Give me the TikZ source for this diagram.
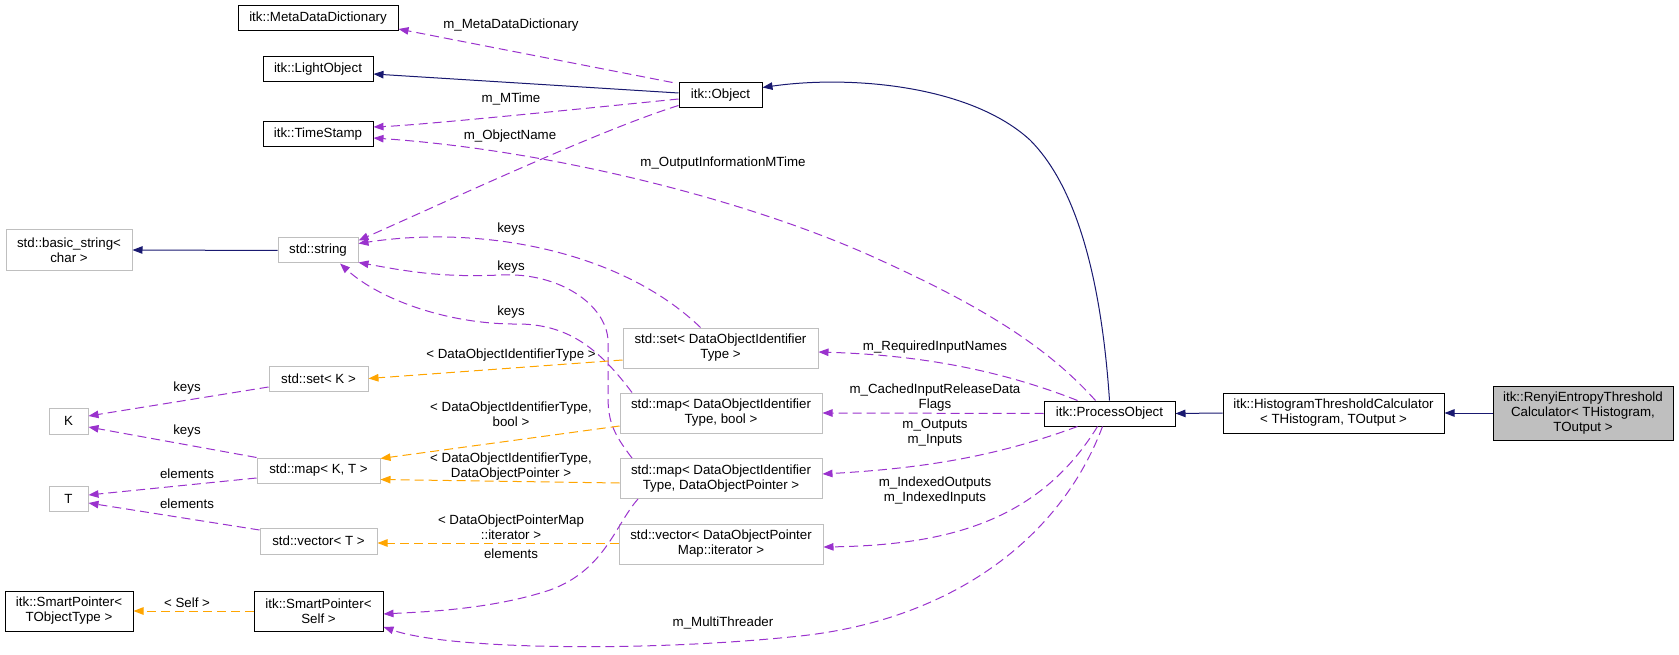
\documentclass[tikz,border=0pt]{standalone}
\usepackage{fontspec}
\setmainfont{Liberation Sans}
\usetikzlibrary{arrows.meta}
\definecolor{inhblue}{HTML}{191970}
\definecolor{usepurple}{HTML}{9A32CD}
\definecolor{tplorange}{HTML}{FFA500}
\definecolor{boxgrey}{HTML}{BFBFBF}
\tikzset{
  cls/.style={draw=black, line width=1pt, align=center, inner sep=0pt, font=\fontsize{13.3}{15}\selectfont},
  ext/.style={cls, draw=boxgrey},
  lbl/.style={align=center, inner sep=0pt, font=\fontsize{13.3}{15}\selectfont},
  tip/.style={-{Triangle[length=10pt,width=7.5pt]}},
  inh/.style={tip, draw=inhblue, line width=1pt},
  usage/.style={tip, draw=usepurple, line width=1pt, dash pattern=on 9pt off 5pt},
  tmpl/.style={tip, draw=tplorange, line width=1pt, dash pattern=on 9pt off 5pt}
}
\begin{document}
\begin{tikzpicture}[x=1pt,y=-1pt]
\useasboundingbox (0,0) rectangle (1679,655);

% classes
\node[cls, minimum width=160, minimum height=25] (mdd) at (318,18.5) {itk::MetaDataDictionary};
\node[cls, minimum width=110, minimum height=25] (lobj) at (318,69.5) {itk::LightObject};
\node[cls, minimum width=110, minimum height=25] (tstamp) at (318,134.5) {itk::TimeStamp};
\node[cls, minimum width=83, minimum height=25] (obj) at (720.5,95.5) {itk::Object};
\node[ext, minimum width=126, minimum height=40] (bstr) at (69,250) {std::basic\_string<\\char >};
\node[ext, minimum width=80, minimum height=25] (str) at (318,250.5) {std::string};
\node[ext, minimum width=39, minimum height=26] (kk) at (68.5,421) {K};
\node[ext, minimum width=39, minimum height=25] (tt) at (68.5,498.5) {T};
\node[ext, minimum width=99, minimum height=25] (setk) at (318.5,378.5) {std::set< K >};
\node[ext, minimum width=123, minimum height=25] (mapkt) at (318.5,470.5) {std::map< K, T >};
\node[ext, minimum width=117, minimum height=26] (vect) at (318.5,541) {std::vector< T >};
\node[cls, minimum width=128, minimum height=40] (sptot) at (69,611) {itk::SmartPointer<\\TObjectType >};
\node[cls, minimum width=129, minimum height=40] (spself) at (318.5,611) {itk::SmartPointer<\\Self >};
\node[ext, minimum width=195, minimum height=40] (setdoi) at (720.5,348) {std::set< DataObjectIdentifier\\Type >};
\node[ext, minimum width=202, minimum height=40] (mapbool) at (721,413) {std::map< DataObjectIdentifier\\Type, bool >};
\node[ext, minimum width=202, minimum height=40] (mapdop) at (721,478.5) {std::map< DataObjectIdentifier\\Type, DataObjectPointer >};
\node[ext, minimum width=204, minimum height=40] (vecit) at (721,544) {std::vector< DataObjectPointer\\Map::iterator >};
\node[cls, minimum width=131, minimum height=25] (proc) at (1109.5,413.5) {itk::ProcessObject};
\node[cls, minimum width=221, minimum height=40] (htc) at (1333.5,413) {itk::HistogramThresholdCalculator\\< THistogram, TOutput >};
\node[cls, fill=boxgrey, minimum width=180, minimum height=54] (renyi) at (1583,413) {itk::RenyiEntropyThreshold\\Calculator< THistogram,\\TOutput >};

% inheritance
\draw[inh] ([yshift=2.5pt]obj.west) -- ([yshift=-4.5pt]lobj.east);
\draw[inh] (proc.north) .. controls (1100,260) and (1070,180) .. (1030,140) .. controls (970,85) and (850,75) .. ([yshift=8pt]obj.east);
\draw[inh] (str.west) -- (bstr.east);
\draw[inh] (htc.west) -- (proc.east);
\draw[inh] (renyi.west) -- (htc.east);

% members of itk::Object
\draw[usage] ([xshift=-6pt]obj.north west) -- ([yshift=-10.5pt]mdd.east);
\node[lbl] (lmdd) at (511,25) {m\_MetaDataDictionary};
\draw[usage] ([yshift=-3.5pt]obj.west) .. controls (550,112) and (420,125) .. ([yshift=7.5pt]tstamp.east);
\node[lbl] (lmtime) at (511,99) {m\_MTime};
\draw[usage] ([yshift=-10pt]obj.west) .. controls (600,130) and (450,200) .. ([yshift=10pt]str.east);
\node[lbl] (lname) at (510,136) {m\_ObjectName};

% members of itk::ProcessObject
\draw[usage] ([xshift=-14pt]proc.north) .. controls (1050,350) and (990,310) .. (880,260) .. controls (750,200) and (550,150) .. ([yshift=-3.5pt]tstamp.east);
\node[lbl] (loutinfo) at (723,163) {m\_OutputInformationMTime};
\draw[usage] ([xshift=-32pt]proc.north) .. controls (1000,370) and (920,355) .. ([yshift=-4pt]setdoi.east);
\node[lbl] (lreq) at (935,347) {m\_RequiredInputNames};
\draw[usage] (proc.west) -- (mapbool.east);
\node[lbl] (lcached) at (935,397.5) {m\_CachedInputReleaseData\\Flags};
\draw[usage] ([xshift=-32pt]proc.south) .. controls (1000,455) and (930,468) .. ([yshift=4.5pt]mapdop.east);
\node[lbl] (linout) at (935,432.5) {m\_Outputs\\m\_Inputs};
\draw[usage] ([xshift=-12pt]proc.south) .. controls (1040,520) and (950,545) .. ([yshift=-3pt]vecit.east);
\node[lbl] (lindexed) at (935,490.5) {m\_IndexedOutputs\\m\_IndexedInputs};
\draw[usage] ([xshift=-7pt]proc.south) .. controls (1060,540) and (950,620) .. (800,636) .. controls (650,652) and (450,650) .. ([yshift=-16pt]spself.east);
\node[lbl] (lthreader) at (723,623) {m\_MultiThreader};

% keys and elements
\draw[usage] ([xshift=-20pt]setdoi.north) .. controls (620,250) and (480,225) .. ([yshift=7pt]str.east);
\node[lbl] (lkeys1) at (511,229) {keys};
\draw[usage] ([xshift=-89pt]mapdop.north) .. controls (612,432) and (608,420) .. (608,395) -- (608,340) .. controls (606,305) and (560,272) .. (500,275) .. controls (440,278) and (400,270) .. ([yshift=-12pt]str.east);
\node[lbl] (lkeys2) at (511,267) {keys};
\draw[usage] ([xshift=-89pt]mapbool.north) .. controls (600,350) and (570,325) .. (520,324) .. controls (450,325) and (380,300) .. ([xshift=22pt]str.south);
\node[lbl] (lkeys3) at (511,312) {keys};
\draw[usage] ([xshift=-83pt]mapdop.south) .. controls (615,525) and (605,570) .. (550,590) .. controls (490,610) and (420,612) .. ([yshift=-3pt]spself.east);
\node[lbl] (lelem3) at (511,554) {elements};
\draw[usage] ([yshift=-8.5pt]setk.west) -- ([yshift=5pt]kk.east);
\node[lbl] (lkeys4) at (187,388) {keys};
\draw[usage] (mapkt.north west) -- ([yshift=-6pt]kk.east);
\node[lbl] (lkeys5) at (187,431) {keys};
\draw[usage] ([yshift=-7.5pt]mapkt.west) -- ([yshift=3.5pt]tt.east);
\node[lbl] (lelem1) at (187,474) {elements};
\draw[usage] ([yshift=11pt]vect.west) -- ([yshift=-4.5pt]tt.east);
\node[lbl] (lelem2) at (187,504) {elements};

% template instances
\draw[tmpl] ([yshift=-12pt]setdoi.west) -- (setk.east);
\node[lbl] (ltset) at (511,355) {< DataObjectIdentifierType >};
\draw[tmpl] ([yshift=-13pt]mapbool.west) -- ([yshift=12pt]mapkt.east);
\node[lbl] (ltbool) at (511,414) {< DataObjectIdentifierType,\\bool >};
\draw[tmpl] ([yshift=-4.5pt]mapdop.west) -- ([yshift=-9pt]mapkt.east);
\node[lbl] (ltdop) at (511,467) {< DataObjectIdentifierType,\\DataObjectPointer >};
\draw[tmpl] ([yshift=1pt]vecit.west) -- ([yshift=-2pt]vect.east);
\node[lbl] (ltvec) at (511,527) {< DataObjectPointerMap\\::iterator >};
\draw[tmpl] (spself.west) -- (sptot.east);
\node[lbl] (ltself) at (187,603) {< Self >};
\end{tikzpicture}
\end{document}
